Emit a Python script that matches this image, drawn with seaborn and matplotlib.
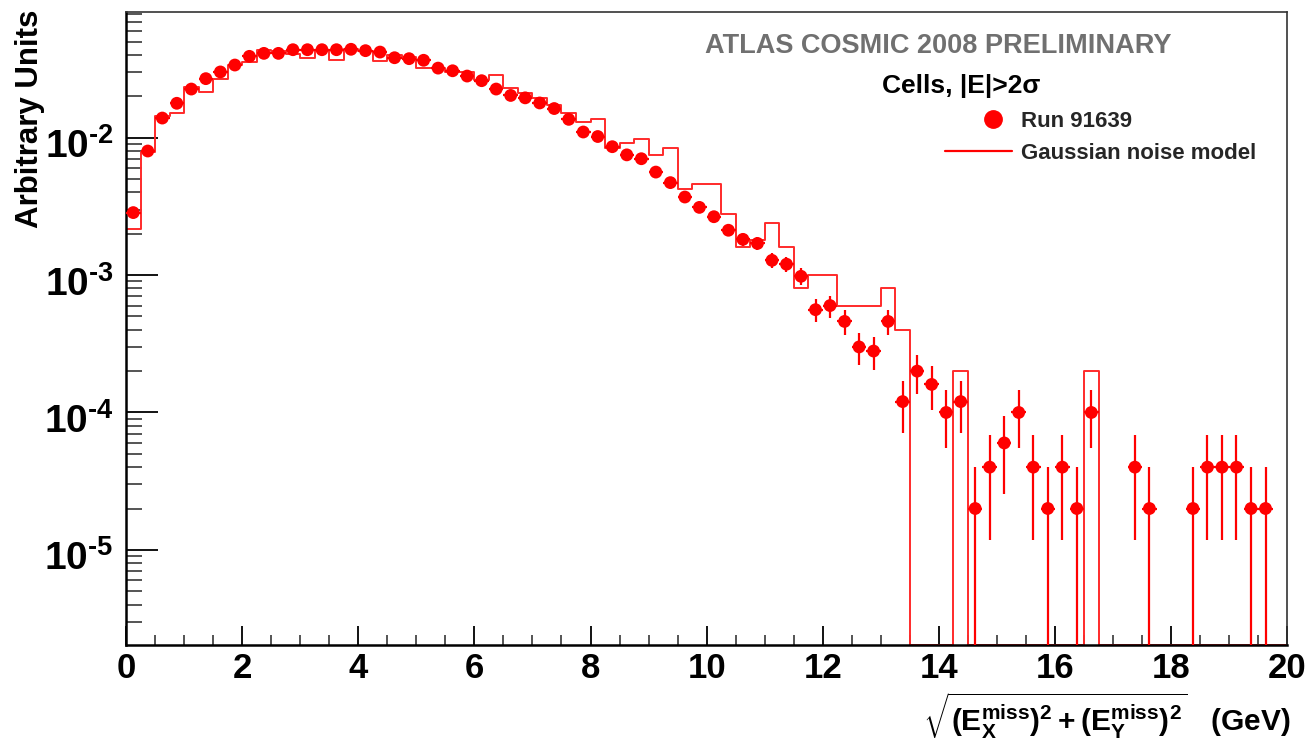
import numpy as np
import pandas as pd
import matplotlib
matplotlib.use("Agg")
import matplotlib.pyplot as plt
import matplotlib.transforms as mtransforms
import seaborn as sns
from matplotlib.lines import Line2D
from matplotlib.legend_handler import HandlerLine2D
from matplotlib.ticker import FixedLocator, LogLocator, NullFormatter, FuncFormatter, MultipleLocator

# ---------------- data ----------------
bin_width = 0.25
n_bins = 80
count_unit = 2e-5  # one event in arbitrary units

data_values = [
    2.85e-3, 8.0e-3, 1.39e-2, 1.78e-2, 2.26e-2, 2.69e-2, 3.01e-2, 3.38e-2, 3.91e-2, 4.11e-2,
    4.11e-2, 4.37e-2, 4.37e-2, 4.37e-2, 4.37e-2, 4.4e-2, 4.3e-2, 4.2e-2, 3.82e-2, 3.76e-2,
    3.66e-2, 3.21e-2, 3.07e-2, 2.81e-2, 2.6e-2, 2.26e-2, 2.03e-2, 1.95e-2, 1.79e-2, 1.63e-2,
    1.36e-2, 1.1e-2, 1.02e-2, 8.6e-3, 7.5e-3, 7.03e-3, 5.62e-3, 4.71e-3, 3.70e-3, 3.11e-3,
    2.66e-3, 2.12e-3, 1.82e-3, 1.70e-3, 1.28e-3, 1.20e-3, 9.8e-4, 5.6e-4, 6.0e-4, 4.6e-4,
    3.0e-4, 2.8e-4, 4.6e-4, 1.2e-4, 2.0e-4, 1.6e-4, 1.0e-4, 1.2e-4, 2e-5, 4e-5,
    6e-5, 1e-4, 4e-5, 2e-5, 4e-5, 2e-5, 1e-4, 0, 0, 4e-5,
    2e-5, 0, 0, 2e-5, 4e-5, 4e-5, 4e-5, 2e-5, 2e-5, 0,
]

model_values = [
    2.18e-3, 7.87e-3, 1.45e-2, 1.52e-2, 2.35e-2, 2.16e-2, 2.67e-2, 3.37e-2, 3.57e-2, 4.35e-2,
    4.3e-2, 4.05e-2, 3.79e-2, 4.35e-2, 3.67e-2, 4.4e-2, 4.3e-2, 3.63e-2, 4.0e-2, 3.88e-2,
    3.2e-2, 3.2e-2, 3.0e-2, 3.0e-2, 2.63e-2, 2.84e-2, 2.31e-2, 2.13e-2, 1.95e-2, 1.72e-2,
    1.52e-2, 1.31e-2, 1.36e-2, 8.4e-3, 9.15e-3, 9.79e-3, 7.52e-3, 8.37e-3, 4.26e-3, 4.6e-3,
    4.6e-3, 2.79e-3, 1.60e-3, 1.8e-3, 2.38e-3, 1.60e-3, 8.0e-4, 1.0e-3, 1.0e-3, 6e-4,
    6e-4, 6e-4, 8e-4, 4e-4, 0, 0, 0, 2e-4, 0, 0,
    0, 0, 0, 0, 0, 0, 2e-4, 0, 0, 0,
    0, 0, 0, 0, 0, 0, 0, 0, 0, 0,
]

x_ticks = [0, 2, 4, 6, 8, 10, 12, 14, 16, 18, 20]
y_major_ticks = [1e-5, 1e-4, 1e-3, 1e-2]
y_limits = (2.03e-6, 0.0829)

title_text = "ATLAS COSMIC 2008 PRELIMINARY"
subtitle_text = "Cells, |E|>2σ"
data_label = "Run 91639"
model_label = "Gaussian noise model"
y_label = "Arbitrary Units"

# ---------------- style ----------------
sns.set_theme(style="ticks")
plt.rcParams["font.family"] = ["Liberation Sans", "DejaVu Sans"]
plt.rcParams["font.weight"] = "bold"
plt.rcParams["mathtext.fontset"] = "custom"
plt.rcParams["mathtext.bf"] = "Liberation Sans:bold"
plt.rcParams["mathtext.rm"] = "Liberation Sans:bold"
plt.rcParams["mathtext.it"] = "Liberation Sans:bold"
plt.rcParams["mathtext.default"] = "bf"

W, H = 1306, 743
fig = plt.figure(figsize=(W / 100, H / 100), dpi=100)
ax = fig.add_axes([126 / W, 1 - 645 / H, (1287.3 - 126) / W, (645 - 11.5) / H])

edges = np.arange(n_bins + 1) * bin_width
centers = edges[:-1] + bin_width / 2
data = np.array(data_values)
model = np.array(model_values)

ax.set_yscale("log", nonpositive="clip")
ax.set_xlim(0, 20)
ax.set_ylim(*y_limits)

# model histogram as steps (empty bins drawn on the lower frame, ROOT style)
floor = y_limits[0]
step_y = np.concatenate([[floor], np.maximum(model, floor), [floor]])
step_x = np.concatenate([[edges[0]], edges[:-1], [edges[-1]]])
model_df = pd.DataFrame({"x": np.append(step_x, edges[-1]), "y": np.append(step_y, floor)})
sns.lineplot(data=model_df, x="x", y="y", drawstyle="steps-post", estimator=None, sort=False,
             color="#ff2a2a", linewidth=1.4, ax=ax, zorder=2)

# data points with Poisson errors
mask = data > 0
err = np.sqrt(data[mask] * count_unit)
ax.errorbar(centers[mask], data[mask], yerr=err, xerr=bin_width / 2, fmt="none",
            ecolor="#ff0000", elinewidth=1.6, capsize=0, zorder=3)
pts = pd.DataFrame({"x": centers[mask], "y": data[mask]})
sns.scatterplot(data=pts, x="x", y="y", color="#ff0000", s=85, edgecolor="none",
                marker="o", ax=ax, zorder=4)

# axes / ticks
for side in ["left", "bottom"]:
    ax.spines[side].set_linewidth(1.8)
    ax.spines[side].set_color("black")
for side in ["top", "right"]:
    ax.spines[side].set_linewidth(1.2)
    ax.spines[side].set_color("#333333")

ax.xaxis.set_major_locator(FixedLocator(x_ticks))
ax.xaxis.set_minor_locator(MultipleLocator(0.5))
ax.yaxis.set_major_locator(FixedLocator(y_major_ticks))
ax.yaxis.set_minor_locator(LogLocator(base=10, subs=np.arange(2, 10), numticks=100))
ax.yaxis.set_minor_formatter(NullFormatter())
ax.yaxis.set_major_formatter(
    FuncFormatter(lambda v, p: "$10^{\u2010%d}$" % abs(int(round(np.log10(v))))))
ax.xaxis.set_major_formatter(FuncFormatter(lambda v, p: "%d" % v))

ax.tick_params(axis="x", which="major", direction="in", length=14, width=1.3, pad=5,
               labelsize=25, colors="black", top=False)
ax.tick_params(axis="x", which="minor", direction="in", length=7, width=1.1, top=False)
ax.tick_params(axis="y", which="major", direction="in", length=23, width=1.3, pad=9,
               labelsize=28, colors="black", right=False)
ax.tick_params(axis="y", which="minor", direction="in", length=11.5, width=1.1, right=False)
for lab in ax.get_xticklabels() + ax.get_yticklabels():
    lab.set_fontweight("bold")
shift = mtransforms.ScaledTranslation(0, -4 / 72, fig.dpi_scale_trans)
for lab in ax.get_yticklabels():
    lab.set_transform(lab.get_transform() + shift)

ax.set_xlabel("")
ax.set_ylabel("")

# texts
fig.text(30 / W, 1 - 10 / H, y_label, rotation=90, ha="center", va="top",
         fontsize=22.5, fontweight="bold", color="black")
fig.text(1290 / W, 1 - 716 / H,
         r"$\sqrt{(E_{X}^{miss})^{2} + (E_{Y}^{miss})^{2}}$" + "   (GeV)",
         ha="right", va="center", fontsize=21.5, fontweight="bold", color="black")
fig.text(705 / W, 1 - 46 / H, title_text, ha="left", va="center", fontsize=19.5,
         fontweight="bold", color="#707070")
fig.text(882 / W, 1 - 86 / H, subtitle_text, ha="left", va="center", fontsize=19,
         fontweight="bold", color="black")


class ShiftedMarkerHandler(HandlerLine2D):
    """Marker drawn right of the handle centre, as in the ROOT legend."""

    def create_artists(self, legend, orig_handle, xdescent, ydescent, width, height,
                       fontsize, trans):
        artists = super().create_artists(legend, orig_handle, xdescent, ydescent, width,
                                         height, fontsize, trans)
        for a in artists:
            a.set_xdata(np.asarray(a.get_xdata(), dtype=float) + 0.22 * width)
        return artists


handles = [
    Line2D([], [], marker="o", linestyle="none", color="#ff0000", markersize=12.5),
    Line2D([], [], color="#ff0000", linewidth=1.6),
]
leg = fig.legend(handles, [data_label, model_label], loc="upper left",
                 bbox_to_anchor=(945 / W, 1 - 111 / H), frameon=False, fontsize=16,
                 handlelength=3.0, handletextpad=0.4, labelspacing=0.5, borderpad=0,
                 borderaxespad=0, handler_map={handles[0]: ShiftedMarkerHandler()})
for t in leg.get_texts():
    t.set_fontweight("bold")

fig.savefig("out.png", dpi=100)
